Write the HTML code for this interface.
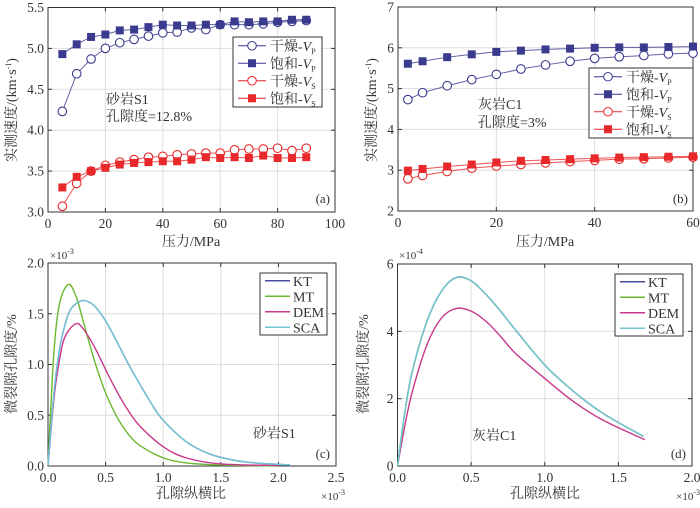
<!DOCTYPE html>
<html><head><meta charset="utf-8"><style>
body{margin:0;background:#fff}
svg text{font-family:"Liberation Serif","Noto Serif CJK SC",serif;fill:#333}
</style></head><body>
<svg id="fig" width="700" height="503" viewBox="0 0 700 503" xmlns="http://www.w3.org/2000/svg"></svg>
<script>
// Panel (a) data
const aPressure=[5,10,15,20,25,30,35,40,45,50,55,60,65,70,75,80,85,90];
const aDryVp=[4.23,4.69,4.87,5.0,5.07,5.11,5.15,5.19,5.2,5.25,5.23,5.29,5.29,5.29,5.3,5.32,5.33,5.34];
const aSatVp=[4.93,5.05,5.14,5.17,5.22,5.23,5.26,5.29,5.28,5.28,5.29,5.29,5.33,5.32,5.33,5.33,5.35,5.35];
const aDryVs=[3.07,3.35,3.5,3.57,3.61,3.64,3.67,3.68,3.7,3.71,3.72,3.72,3.76,3.77,3.77,3.78,3.75,3.78];
const aSatVs=[3.3,3.43,3.5,3.54,3.58,3.6,3.61,3.62,3.62,3.64,3.67,3.66,3.67,3.66,3.69,3.66,3.66,3.67];
// Panel (b) data
const bPressure=[2,5,10,15,20,25,30,35,40,45,50,55,60];
const bDryVp=[4.73,4.9,5.07,5.22,5.35,5.48,5.58,5.67,5.74,5.78,5.81,5.85,5.87];
const bSatVp=[5.61,5.67,5.77,5.84,5.9,5.93,5.96,5.98,6.0,6.01,6.01,6.02,6.03];
const bDryVs=[2.79,2.87,2.97,3.05,3.1,3.14,3.18,3.21,3.24,3.27,3.28,3.3,3.32];
const bSatVs=[2.99,3.03,3.09,3.14,3.19,3.23,3.25,3.27,3.29,3.31,3.32,3.33,3.34];
// Panel (c) data (x ×1e-3, y ×1e-3)
const cKtX=[0,0.05,0.1,0.15,0.2,0.3,0.4,0.5,0.6,0.7,0.8,0.9,1.0,1.2,1.4,1.6,1.8,2.1];
const cKtY=[0,0.7,1.15,1.4,1.55,1.63,1.58,1.43,1.22,1.0,0.8,0.61,0.45,0.24,0.12,0.06,0.03,0.01];
const cMtX=[0,0.05,0.1,0.18,0.25,0.3,0.4,0.5,0.6,0.7,0.8,1.0,1.2,1.5,2.0];
const cMtY=[0,1.1,1.6,1.79,1.65,1.45,1.05,0.72,0.48,0.31,0.2,0.08,0.03,0.01,0];
const cDemX=[0,0.05,0.1,0.15,0.24,0.3,0.4,0.5,0.6,0.7,0.8,1.0,1.2,1.5,2.0];
const cDemY=[0,0.65,1.05,1.28,1.4,1.36,1.18,0.95,0.73,0.54,0.39,0.19,0.08,0.02,0.005];
// Panel (d) data (x ×1e-3, y ×1e-4)
const dKtX=[0,0.05,0.1,0.2,0.3,0.4,0.5,0.6,0.7,0.8,1.0,1.2,1.4,1.67];
const dKtY=[0,1.6,2.8,4.3,5.2,5.6,5.5,5.1,4.6,4.05,3.0,2.2,1.55,0.88];
const dDemX=[0,0.05,0.1,0.2,0.3,0.4,0.5,0.6,0.7,0.8,1.0,1.2,1.4,1.68];
const dDemY=[0,1.2,2.2,3.6,4.4,4.68,4.6,4.3,3.85,3.35,2.6,1.9,1.35,0.78];
const aXTicks=[0,20,40,60,80,100], aYTicks=[3.0,3.5,4.0,4.5,5.0,5.5];
const bXTicks=[0,20,40,60], bYTicks=[2,3,4,5,6,7];
const cXTicks=[0,0.5,1.0,1.5,2.0,2.5], cYTicks=[0,0.5,1.0,1.5,2.0];
const dXTicks=[0,0.5,1.0,1.5,2.0], dYTicks=[0,2,4,6];

const NS="http://www.w3.org/2000/svg", svg=document.getElementById('fig');
const BLUE="#3a3a8e",RED="#e8282a",GREEN="#6ab82e",MAG="#c8388a",CYAN="#72c6d6",KTC="#4a4aa6";
function mk(tag,at,parent){const e=document.createElementNS(NS,tag);for(const k in at)e.setAttribute(k,at[k]);(parent||svg).appendChild(e);return e;}
function smoothPath(pts){let d="M"+pts[0][0]+","+pts[0][1];for(let i=0;i<pts.length-1;i++){const p0=pts[i-1]||pts[i],p1=pts[i],p2=pts[i+1],p3=pts[i+2]||p2;
 d+=" C"+(p1[0]+(p2[0]-p0[0])/6)+","+(p1[1]+(p2[1]-p0[1])/6)+" "+(p2[0]-(p3[0]-p1[0])/6)+","+(p2[1]-(p3[1]-p1[1])/6)+" "+p2[0]+","+p2[1];}return d;}
function axes(g,x0,x1,y0,y1,xmin,xmax,ymin,ymax,xt,yt,fmtX,fmtY){
 const sx=v=>x0+(v-xmin)/(xmax-xmin)*(x1-x0), sy=v=>y1-(v-ymin)/(ymax-ymin)*(y1-y0);
 xt.forEach(v=>{const l=mk('line',{x1:sx(v),x2:sx(v),y1:y0,y2:y1,stroke:'#ddd','stroke-width':1},g);
  mk('line',{x1:sx(v),x2:sx(v),y1:y1,y2:y1-4,stroke:'#333'},g);mk('line',{x1:sx(v),x2:sx(v),y1:y0,y2:y0+4,stroke:'#333'},g);
  const t=mk('text',{x:sx(v),y:y1+16,'text-anchor':'middle','font-size':13.5},g);t.textContent=fmtX(v);});
 yt.forEach(v=>{const l=mk('line',{x1:x0,x2:x1,y1:sy(v),y2:sy(v),stroke:'#ddd','stroke-width':1},g);
  mk('line',{x1:x0,x2:x0+4,y1:sy(v),y2:sy(v),stroke:'#333'},g);mk('line',{x1:x1,x2:x1-4,y1:sy(v),y2:sy(v),stroke:'#333'},g);
  const t=mk('text',{x:x0-4,y:sy(v)+4.5,'text-anchor':'end','font-size':13.5},g);t.textContent=fmtY(v);});
 const r=mk('rect',{x:x0,y:y0,width:x1-x0,height:y1-y0,fill:'none',stroke:'#333','stroke-width':1},g);
 return {sx,sy};
}
function text(g,x,y,s,size,anchor,name){const t=mk('text',{x:x,y:y,'font-size':size,'text-anchor':anchor||'start'},g);t.innerHTML=s;return t;}
function series(g,ax,xs,ys,color,marker,name){
 const s=mk('g',{},g);
 mk('polyline',{points:xs.map((x,i)=>ax.sx(x)+","+ax.sy(ys[i])).join(" "),fill:'none',stroke:color,'stroke-width':1,'stroke-opacity':0.8},s);
 xs.forEach((x,i)=>{const X=ax.sx(x),Y=ax.sy(ys[i]);let m;
  if(marker==='o')m=mk('circle',{cx:X,cy:Y,r:4.3,fill:'#fff',stroke:color,'stroke-width':1.1},s);
  else m=mk('rect',{x:X-4,y:Y-4,width:8,height:8,fill:color},s);
  });
}
function curve(g,ax,xs,ys,color,name){const p=mk('path',{d:smoothPath(xs.map((x,i)=>[ax.sx(x),ax.sy(ys[i])])),fill:'none',stroke:color,'stroke-width':1.4},g);}
function legendMk(g,x,y,w,h,items,type){
 const lg=mk('g',{},g);
 mk('rect',{x:x,y:y,width:w,height:h,fill:'#fff',stroke:'#333'},lg);
 const step=h/items.length;
 items.forEach((it,i)=>{const e=mk('g',{},lg);
  const cy=y+step*(i+0.5);
  if(type==='marker'){mk('line',{x1:x+5,x2:x+33,y1:cy,y2:cy,stroke:it[1]},e);
   if(it[2]==='o')mk('circle',{cx:x+19,cy:cy,r:4.3,fill:'#fff',stroke:it[1]},e);else mk('rect',{x:x+15,y:cy-4,width:8,height:8,fill:it[1]},e);
   const t=mk('text',{x:x+37,y:cy+5,'font-size':14},e);t.innerHTML=it[0];}
  else{mk('line',{x1:x+5,x2:x+30,y1:cy,y2:cy,stroke:it[1],'stroke-width':1.5},e);const t=mk('text',{x:x+33,y:cy+5,'font-size':14},e);t.textContent=it[0];}
 });
}
const f1=v=>v.toFixed(1), f0=v=>String(v);
// (a)
let g=mk('g',{});
let ax=axes(g,48,335,7.5,212,0,100,3.0,5.5,aXTicks,aYTicks,f0,f1);
series(g,ax,aPressure,aDryVp,BLUE,'o','dry-vp-series');series(g,ax,aPressure,aSatVp,BLUE,'s','sat-vp-series');
series(g,ax,aPressure,aDryVs,RED,'o','dry-vs-series');series(g,ax,aPressure,aSatVs,RED,'s','sat-vs-series');
const vp='-<tspan font-style="italic">V</tspan><tspan font-size="8" dy="3">P</tspan>', vs='-<tspan font-style="italic">V</tspan><tspan font-size="8" dy="3">S</tspan>';
legendMk(g,233,37,89,70,[['干燥'+vp,BLUE,'o'],['饱和'+vp,BLUE,'s'],['干燥'+vs,RED,'o'],['饱和'+vs,RED,'s']],'marker');
text(g,106,104,'砂岩S1',14,'start','sample-label');text(g,106,121,'孔隙度=12.8%',14,'start','porosity-label');
text(g,330,203,'(a)',13,'end','panel-tag');text(g,191,246,'压力/MPa',14,'middle','x-axis-title');
let t=text(g,0,0,'实测速度/(km·s<tspan font-size="8" dy="-5">-1</tspan><tspan dy="5">)</tspan>',14,'middle','y-axis-title');t.setAttribute('transform','translate(16,110) rotate(-90)');
// (b)
g=mk('g',{});
ax=axes(g,398,693,7,211,0,60,2,7,bXTicks,bYTicks,f0,f0);
series(g,ax,bPressure,bDryVp,BLUE,'o','dry-vp-series');series(g,ax,bPressure,bSatVp,BLUE,'s','sat-vp-series');
series(g,ax,bPressure,bDryVs,RED,'o','dry-vs-series');series(g,ax,bPressure,bSatVs,RED,'s','sat-vs-series');
legendMk(g,589,68,104,70,[['干燥'+vp,BLUE,'o'],['饱和'+vp,BLUE,'s'],['干燥'+vs,RED,'o'],['饱和'+vs,RED,'s']],'marker');
text(g,478,109,'灰岩C1',14,'start','sample-label');text(g,478,127,'孔隙度=3%',14,'start','porosity-label');
text(g,688,203,'(b)',13,'end','panel-tag');text(g,545,246,'压力/MPa',14,'middle','x-axis-title');
t=text(g,0,0,'实测速度/(km·s<tspan font-size="8" dy="-5">-1</tspan><tspan dy="5">)</tspan>',14,'middle','y-axis-title');t.setAttribute('transform','translate(376,110) rotate(-90)');
// (c)
g=mk('g',{});
ax=axes(g,48,336,263,466,0,2.5,0,2.0,cXTicks,cYTicks,f1,f1);
curve(g,ax,cMtX,cMtY,GREEN,'mt-curve');curve(g,ax,cDemX,cDemY,MAG,'dem-curve');curve(g,ax,cKtX,cKtY,KTC,'kt-curve');curve(g,ax,cKtX,cKtY,CYAN,'sca-curve');
legendMk(g,260,273,67,62,[['KT',KTC],['MT',GREEN],['DEM',MAG],['SCA',CYAN]],'line');
text(g,50,259,'×10<tspan font-size="8" dy="-5">-3</tspan>',11,'start','y-scale-label');
text(g,345,500,'×10<tspan font-size="8" dy="-5">-3</tspan>',11,'end','x-scale-label');
text(g,253,438,'砂岩S1',14,'start','sample-label');text(g,330,458,'(c)',13,'end','panel-tag');
text(g,191,498,'孔隙纵横比',14,'middle','x-axis-title');
t=text(g,0,0,'微裂隙孔隙度/%',14,'middle','y-axis-title');t.setAttribute('transform','translate(16,364) rotate(-90)');
// (d)
g=mk('g',{});
ax=axes(g,397.5,692,264,466,0,2.0,0,6,dXTicks,dYTicks,f1,f0);
curve(g,ax,dDemX,dDemY,MAG,'dem-curve');curve(g,ax,dKtX,dKtY,KTC,'kt-curve');curve(g,ax,dKtX,dKtY,GREEN,'mt-curve');curve(g,ax,dKtX,dKtY,CYAN,'sca-curve');
legendMk(g,615,274,68,62,[['KT',KTC],['MT',GREEN],['DEM',MAG],['SCA',CYAN]],'line');
text(g,399,259,'×10<tspan font-size="8" dy="-5">-4</tspan>',11,'start','y-scale-label');
text(g,700,500,'×10<tspan font-size="8" dy="-5">-3</tspan>',11,'end','x-scale-label');
text(g,472,440,'灰岩C1',14,'start','sample-label');text(g,686,458,'(d)',13,'end','panel-tag');
text(g,545,498,'孔隙纵横比',14,'middle','x-axis-title');
t=text(g,0,0,'微裂隙孔隙度/%',14,'middle','y-axis-title');t.setAttribute('transform','translate(368,364) rotate(-90)');
</script>
</body></html>
